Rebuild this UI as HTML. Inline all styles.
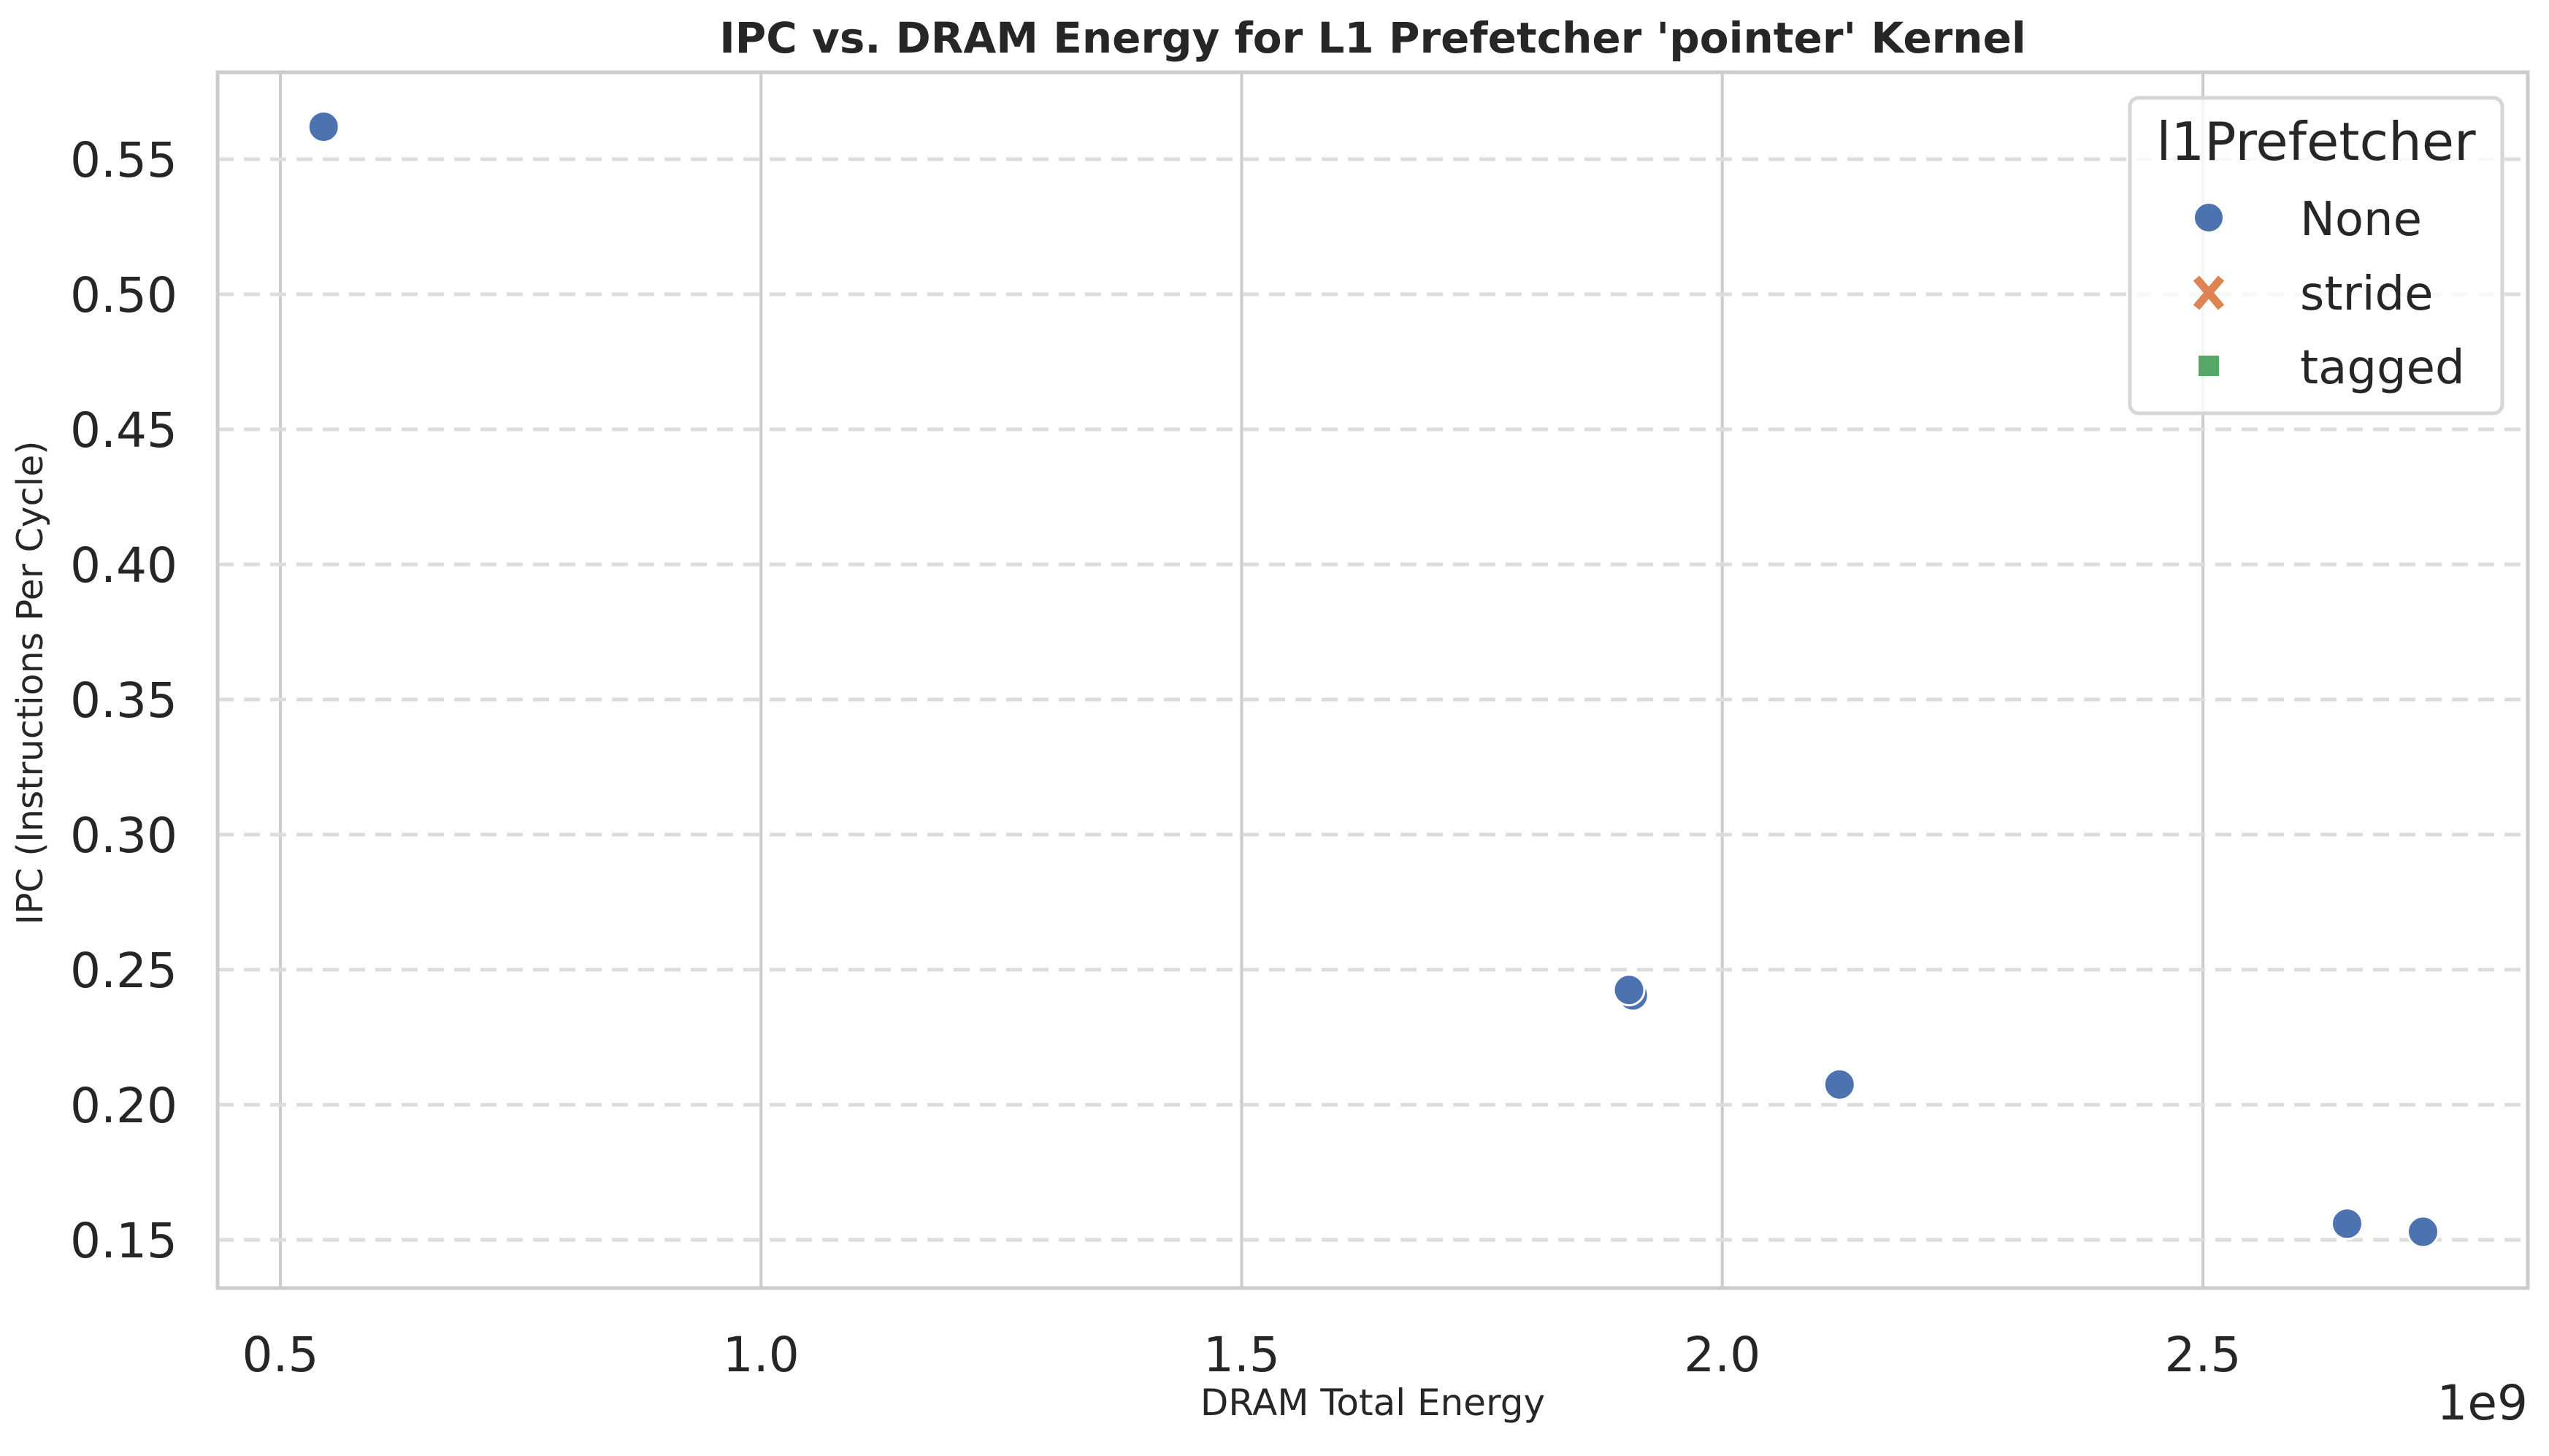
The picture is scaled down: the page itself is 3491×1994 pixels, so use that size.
<!DOCTYPE html>
<html><head><meta charset="utf-8"><style>
html,body{margin:0;padding:0;background:#fff}
svg{display:block}
text{font-family:"DejaVu Sans","Liberation Sans",sans-serif;fill:#262626}
</style></head><body>
<svg id="chart" width="3491" height="1994" viewBox="0 0 3491 1994" xmlns="http://www.w3.org/2000/svg">
<text x="1880" y="72" text-anchor="middle" font-size="58" font-weight="bold">IPC vs. DRAM Energy for L1 Prefetcher 'pointer' Kernel</text>
<g id="grid"></g>
<g id="marks"></g>
<rect x="298" y="99" width="3164" height="1665" fill="none" stroke="#cccccc" stroke-width="5"/>
<g id="ticks"></g>
<text x="1880" y="1938" text-anchor="middle" font-size="50">DRAM Total Energy</text>
<text x="3462" y="1944" text-anchor="end" font-size="66">1e9</text>
<text transform="translate(58,935) rotate(-90)" text-anchor="middle" font-size="49">IPC (Instructions Per Cycle)</text>
<g>
<rect x="2917" y="134" width="510" height="432" rx="12" fill="#fff" fill-opacity="0.8" stroke="#d6d6d6" stroke-width="5"/>
<text x="3172" y="219" text-anchor="middle" font-size="72">l1Prefetcher</text>
<g>
<circle cx="3025" cy="298" r="20" fill="#4c72b0" stroke="#fff" stroke-width="2"/>
<text x="3150" y="322" font-size="64">None</text></g>
<g>
<path d="M3008 381 L3042 421 M3042 381 L3008 421" stroke="#dd8452" stroke-width="11"/>
<text x="3150" y="424" font-size="64">stride</text></g>
<g>
<rect x="3011" y="487" width="28" height="28" fill="#55a868"/>
<text x="3150" y="525" font-size="64">tagged</text></g>
</g>
</svg>
<script>
const xTicks=[0.5,1.0,1.5,2.0,2.5];
const xTickLabels=["0.5","1.0","1.5","2.0","2.5"];
const yTicks=[0.15,0.20,0.25,0.30,0.35,0.40,0.45,0.50,0.55];
const yTickLabels=["0.15","0.20","0.25","0.30","0.35","0.40","0.45","0.50","0.55"];
const taggedX=[1.899];
const taggedY=[0.2425];
const noneX=[0.545,1.907,1.903,2.122,2.650,2.729];
const noneY=[0.562,0.2405,0.2425,0.2075,0.156,0.153];
const NS="http://www.w3.org/2000/svg";
function sx(v){return 384+(v-0.5)*1316.5;}
function sy(v){return 218+(0.55-v)*3700;}
function mk(tag,attrs,parent){const e=document.createElementNS(NS,tag);for(const k in attrs)e.setAttribute(k,attrs[k]);parent.appendChild(e);return e;}
const grid=document.getElementById('grid'),ticks=document.getElementById('ticks'),marks=document.getElementById('marks');
xTicks.forEach((t,i)=>{
 const l=mk('line',{x1:sx(t),x2:sx(t),y1:99,y2:1764,stroke:'#cccccc','stroke-width':4},grid);
 
 
 const tx=mk('text',{x:sx(t),y:1878,'text-anchor':'middle','font-size':66},ticks);
 tx.textContent=xTickLabels[i];
 
 
});
yTicks.forEach((t,i)=>{
 const l=mk('line',{x1:298,x2:3462,y1:sy(t),y2:sy(t),stroke:'#dddddd','stroke-width':5,'stroke-dasharray':'22 14'},grid);
 
 
 const tx=mk('text',{x:243,y:sy(t)+24,'text-anchor':'end','font-size':66},ticks);
 tx.textContent=yTickLabels[i];
 
 
});
taggedX.forEach((v,i)=>{
 const r=mk('rect',{x:sx(v)-14,y:sy(taggedY[i])-14,width:28,height:28,fill:'#55a868',stroke:'#fff','stroke-width':2},marks);
 
 
});
noneX.forEach((v,i)=>{
 const c=mk('circle',{cx:sx(v),cy:sy(noneY[i]),r:21,fill:'#4c72b0',stroke:'#fff','stroke-width':3},marks);
 
 
});
</script>
</body></html>
